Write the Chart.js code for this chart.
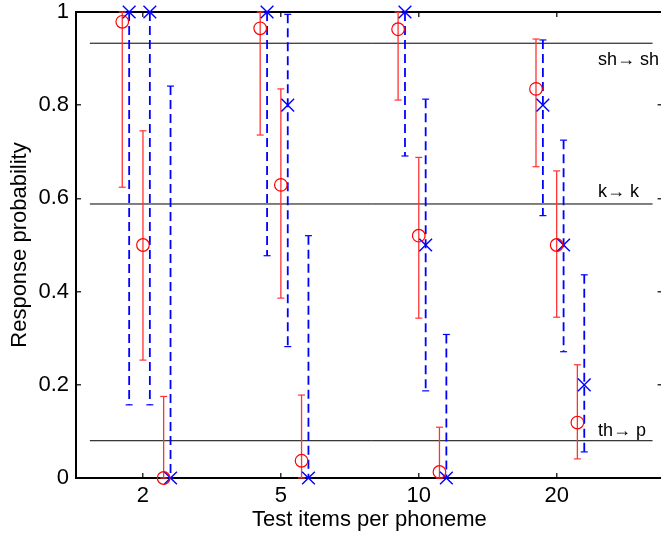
<!DOCTYPE html>
<html>
<head>
<meta charset="utf-8">
<script src="https://cdn.jsdelivr.net/npm/chart.js@4/dist/chart.umd.min.js"></script>
<style>
  html, body { margin: 0; padding: 0; background: #fff; overflow: hidden; }
</style>
</head>
<body>
<canvas id="chart" width="673" height="536"></canvas>
<script>
// Categories on the x axis
const categories = ['2', '5', '10', '20'];

// sh -> sh  (red = circles, solid bars; blue = crosses, dashed bars)
const redSh = [0.979, 0.965, 0.963, 0.835];
const redShLo = [0.624, 0.736, 0.811, 0.668];
const redShHi = [1.0, 1.0, 1.0, 0.942];
const blueSh = [1.0, 1.0, 1.0, 0.8];
const blueShLo = [0.157, 0.477, 0.691, 0.563];
const blueShHi = [1.0, 1.0, 1.0, 0.94];

// k -> k
const redK = [0.5, 0.629, 0.52, 0.5];
const redKLo = [0.253, 0.386, 0.343, 0.345];
const redKHi = [0.745, 0.835, 0.688, 0.659];
const blueK = [1.0, 0.8, 0.5, 0.5];
const blueKLo = [0.157, 0.282, 0.187, 0.271];
const blueKHi = [1.0, 0.995, 0.813, 0.725];

// th -> p
const redTh = [0.0, 0.037, 0.013, 0.119];
const redThLo = [0.0, 0.0, 0.0, 0.041];
const redThHi = [0.175, 0.178, 0.109, 0.243];
const blueTh = [0.0, 0.0, 0.0, 0.2];
const blueThLo = [0.0, 0.0, 0.0, 0.056];
const blueThHi = [0.841, 0.52, 0.308, 0.436];

// True values (horizontal reference lines) and their labels
const refValues = [0.933, 0.588, 0.08];
const refLabels = ['sh\u2192 sh', 'k\u2192 k', 'th\u2192 p'];

// y ticks
const yTicks = [0, 0.2, 0.4, 0.6, 0.8, 1];

// placement within a category group (x units)
const redOffsets = [-0.15, 0, 0.15];
const blueOffsets = [-0.1, 0.05, 0.2];
const lineFrom = 0.615, lineTo = 4.695;
const labelX = 4.3;
const labelY = [0.886, 0.603, 0.09];
const X_MIN = 0.5145, X_MAX = 4.768;

const FONT = "'Liberation Sans', Arial, Helvetica, sans-serif";
Chart.defaults.font.family = FONT;
Chart.defaults.color = '#000';

const redSets = [[redSh, redShLo, redShHi], [redK, redKLo, redKHi], [redTh, redThLo, redThHi]];
const blueSets = [[blueSh, blueShLo, blueShHi], [blueK, blueKLo, blueKHi], [blueTh, blueThLo, blueThHi]];

function points(sets, offsets) {
  const out = [];
  sets.forEach((s, k) => s[0].forEach((v, i) => out.push({ x: i + 1 + offsets[k], y: v })));
  return out;
}
function bars(sets, offsets) {
  const out = [];
  sets.forEach((s, k) => s[0].forEach((v, i) => {
    const x = i + 1 + offsets[k];
    out.push({ x, y: s[2][i] }, { x, y: s[1][i] }, { x, y: null });
  }));
  return out;
}

const datasets = [
  {
    data: points(redSets, redOffsets), pointStyle: 'circle', pointRadius: 6.3,
    borderColor: '#ff0000', backgroundColor: 'transparent', pointBorderWidth: 1.2, showLine: false, clip: false
  },
  {
    data: points(blueSets, blueOffsets), pointStyle: 'crossRot', pointRadius: 9,
    borderColor: '#0000ff', backgroundColor: 'transparent', pointBorderWidth: 1.4, showLine: false, clip: false
  },
  {
    data: bars(redSets, redOffsets), showLine: true, spanGaps: false, borderColor: '#ff3333', borderWidth: 1.3,
    pointStyle: 'line', pointRadius: 3.5, pointBorderWidth: 1.2, pointBorderColor: '#ff3333', clip: false
  },
  {
    data: bars(blueSets, blueOffsets), showLine: true, spanGaps: false, borderColor: '#0000ff', borderWidth: 1.8,
    borderDash: [9, 5], pointStyle: 'line', pointRadius: 3.5, pointBorderWidth: 1.2, pointBorderColor: '#0000ff', clip: false
  }
];
refValues.forEach(v => datasets.push({
  data: [{ x: lineFrom, y: v }, { x: lineTo, y: v }], showLine: true, borderColor: '#000',
  borderWidth: 1, pointRadius: 0
}));

// labels next to the reference lines
const labelPlugin = {
  id: 'refLabels',
  afterDraw(chart) {
    const ctx = chart.ctx;
    const xs = chart.scales.x, ys = chart.scales.y;
    ctx.save();
    ctx.font = '18px ' + FONT;
    ctx.fillStyle = '#000';
    ctx.textBaseline = 'alphabetic';
    ctx.textAlign = 'left';
    refLabels.forEach((t, i) => {
      ctx.fillText(t, xs.getPixelForValue(labelX), ys.getPixelForValue(labelY[i]));
    });
    ctx.restore();
  }
};

const tickGrid = { display: true, drawOnChartArea: false, drawTicks: true, tickLength: -5, color: '#333', lineWidth: 1.5 };
const frameBorder = { display: true, color: '#000', width: 2 };
const xTicksFn = s => { s.ticks = categories.map((c, i) => ({ value: i + 1 })); };
const yTicksFn = s => { s.ticks = yTicks.map(v => ({ value: v })); };

new Chart(document.getElementById('chart'), {
  type: 'scatter',
  data: { datasets },
  options: {
    responsive: false,
    animation: false,
    layout: { padding: { top: 12, right: 1, bottom: 0, left: 0 } },
    plugins: { legend: { display: false }, tooltip: { enabled: false } },
    scales: {
      x: {
        type: 'linear', position: 'bottom', min: X_MIN, max: X_MAX,
        grid: tickGrid, border: frameBorder,
        afterBuildTicks: xTicksFn,
        afterFit: s => { s.height = 58; s.paddingLeft = 0; s.paddingRight = 0; },
        ticks: { padding: 10, font: { size: 22 }, callback: v => categories[v - 1] },
        title: { display: true, text: 'Test items per phoneme', font: { size: 22 }, padding: { top: 0, bottom: 3 } }
      },
      x2: {
        type: 'linear', axis: 'x', position: 'top', min: X_MIN, max: X_MAX,
        grid: tickGrid, border: frameBorder,
        afterBuildTicks: xTicksFn,
        afterFit: s => { s.height = 0; s.paddingLeft = 0; s.paddingRight = 0; },
        ticks: { display: false }
      },
      y: {
        type: 'linear', position: 'left', min: 0, max: 1,
        grid: tickGrid, border: frameBorder,
        afterBuildTicks: yTicksFn,
        afterFit: s => { s.width = 76; s.paddingTop = 0; s.paddingBottom = 0; },
        ticks: { padding: 12, font: { size: 22 }, callback: v => String(Math.round(v * 10) / 10) },
        title: { display: true, text: 'Response probability', font: { size: 22 }, padding: { top: 7, bottom: 0 } }
      },
      y2: {
        type: 'linear', axis: 'y', position: 'right', min: 0, max: 1,
        grid: tickGrid, border: frameBorder,
        afterBuildTicks: yTicksFn,
        afterFit: s => { s.width = 0; s.paddingTop = 0; s.paddingBottom = 0; },
        ticks: { display: false }
      }
    }
  },
  plugins: [labelPlugin]
});
</script>
</body>
</html>
